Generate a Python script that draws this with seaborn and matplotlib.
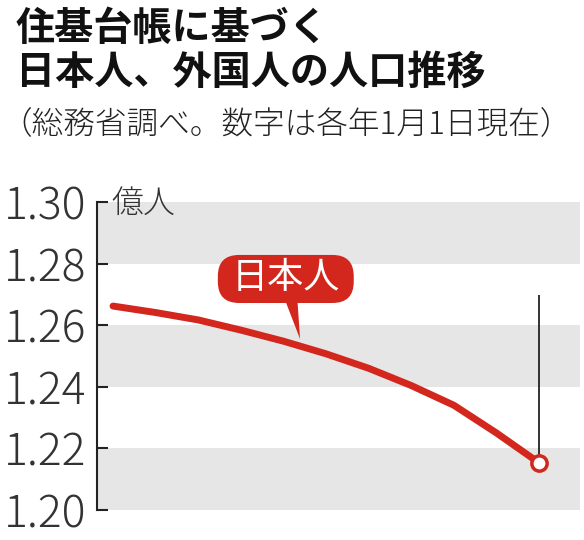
import matplotlib
matplotlib.use("Agg")
import matplotlib.pyplot as plt
import seaborn as sns
import pandas as pd
from matplotlib.patches import FancyBboxPatch, Polygon

# 日本人人口（億人）、各年1月1日現在 -- 図から読み取った値
years = [2014, 2015, 2016, 2017, 2018, 2019, 2020, 2021, 2022, 2023, 2024]
japanese = [1.2662, 1.2641, 1.2617, 1.2584, 1.2548, 1.2507, 1.2460, 1.2404, 1.2340, 1.2250, 1.2153]

y_ticks = [1.20, 1.22, 1.24, 1.26, 1.28, 1.30]
y_tick_labels = ["1.20", "1.22", "1.24", "1.26", "1.28", "1.30"]
bands = [(1.20, 1.22), (1.24, 1.26), (1.28, 1.30)]

title_1 = "住基台帳に基づく"
title_2 = "日本人、外国人の人口推移"
subtitle = "（総務省調べ。数字は各年1月1日現在）"
unit = "億人"
series_label = "日本人"

RED = "#d3261c"
BAND = "#e6e6e6"

sns.set_theme(style="white")
plt.rcParams['font.family'] = ['Noto Sans CJK JP', 'DejaVu Sans']

df = pd.DataFrame({"year": years, "pop": japanese})

fig = plt.figure(figsize=(5.84, 5.40), dpi=100)
ax = fig.add_axes([0.1661, 0.0556, 0.827, 0.5704])

# 背景の縞
for lo, hi in bands:
    ax.axhspan(lo, hi, color=BAND, lw=0, zorder=0)

sns.lineplot(data=df, x="year", y="pop", ax=ax, color=RED, lw=5,
             solid_capstyle="round", solid_joinstyle="round", zorder=3)

# 最新値の丸印と引き出し線
ax.vlines(years[-1], japanese[-1], 1.2698, color="#222222", lw=1.3, zorder=2)
ax.plot([years[-1]], [japanese[-1]], marker="o", ms=11, mfc="white",
        mec=RED, mew=2.5, zorder=4)

ax.set_xlim(years[0] - 0.376, years[-1] + 0.96)
ax.set_ylim(1.20, 1.30)
ax.set_yticks(y_ticks)
ax.set_yticklabels(y_tick_labels, fontsize=32, color="#333333",
                   family=['Noto Sans CJK JP', 'DejaVu Sans'], fontweight='light')
ax.tick_params(axis='y', direction='in', length=8, width=1.5, pad=8,
               colors="#222222", left=True)
ax.tick_params(axis='y', labelcolor="#333333")
ax.set_xticks([])
ax.set_xlabel("")
ax.set_ylabel("")
for s in ["top", "right", "bottom"]:
    ax.spines[s].set_visible(False)
ax.spines["left"].set_color("#222222")
ax.spines["left"].set_linewidth(1.5)

# 単位
ax.text(2013.97, 1.2995, unit, fontsize=23, color="#333333", va="center",
        ha="left", fontweight='light')

# 吹き出し「日本人」
bx0, bx1 = 2016.46, 2019.65
by0, by1 = 1.2672, 1.2828
box = FancyBboxPatch((bx0, by0), bx1 - bx0, by1 - by0,
                     boxstyle="round,pad=0,rounding_size=0.5",
                     mutation_aspect=0.0138,
                     fc=RED, ec="none", zorder=5)
ax.add_patch(box)
tail = Polygon([(2018.05, by0 + 0.0005), (2018.33, by0 + 0.0005), (2018.39, 1.2555)],
               closed=True, fc=RED, ec="none", zorder=5)
ax.add_patch(tail)
ax.text((bx0 + bx1) / 2, (by0 + by1) / 2 + 0.0003, series_label, color="white",
        fontsize=26, ha="center", va="center", zorder=6)

# タイトル
fig.text(0.027, 0.947, title_1, fontsize=28.2, fontweight="bold",
         ha="left", va="center", color="#111111")
fig.text(0.027, 0.866, title_2, fontsize=28.2, fontweight="bold",
         ha="left", va="center", color="#111111")
fig.text(0.001, 0.770, subtitle, fontsize=22.8, ha="left", va="center",
         color="#222222", fontweight='light')

fig.savefig("out.png", dpi=100)
